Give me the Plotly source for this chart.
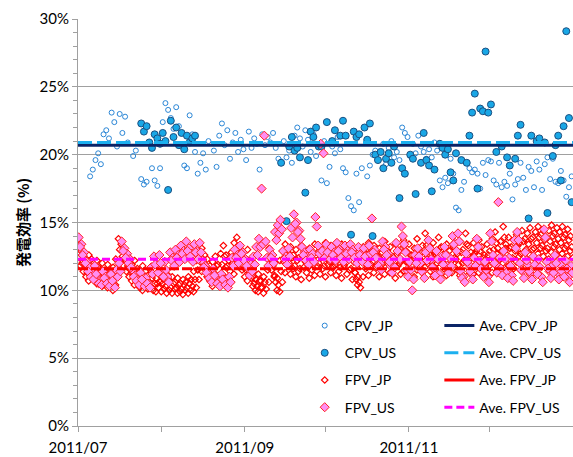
import pandas as pd
import plotly.graph_objects as go

# ---- data (efficiency in %, one list entry per day starting 2011-07-01) ----
start = pd.Timestamp("2011-07-01")

fpv_jp_morning = [
    13.2, 12.9, 12.4, 12.1, 12.6, 12.3, 11.8, 12.2, 11.6, 12.0,
    11.5, 11.9, 11.2, 11.7, 12.3, 13.8, 13.4, 13.0, 12.7, 12.4,
    11.9, 12.2, 11.6, 11.3, 11.8, 11.4, 11.1, 11.6, 11.2, 10.9,
    11.3, 11.0, 10.8, 11.2, 10.7, 11.0, 10.6, 10.9, 10.5, 10.8,
    10.6, 11.0, 10.8, 11.4, 12.2, 12.9, 13.1, 12.6, 12.3, 11.8,
    12.1, 12.5, 11.9, 12.7, 13.3, 12.6, 12.2, 12.8, 13.5, 13.9,
    13.2, 12.7, 12.4, 13.0, 11.6, 11.0, 10.8, 11.2, 10.7, 11.0,
    12.4, 13.1, 12.6, 11.1, 10.9, 12.2, 12.9, 13.4, 12.8, 13.2,
    12.6, 13.0, 12.4, 13.3, 12.9, 12.5, 13.1, 12.7, 13.4, 12.8,
    13.2, 12.6, 13.5, 12.9, 13.3, 12.7, 13.0, 12.5, 13.4, 12.8,
    13.1, 12.4, 12.9, 11.3, 11.0, 12.6, 13.2, 12.7, 13.5, 12.9,
    13.3, 12.6, 13.1, 12.8, 13.6, 12.9, 13.2, 12.5, 13.4, 12.8,
    13.0, 13.7, 12.9, 13.4, 12.6, 13.1, 13.8, 12.9, 13.3, 14.2,
    13.0, 12.6, 13.5, 12.8, 13.9, 13.2, 12.7, 13.4, 12.9, 14.0,
    13.1, 12.7, 13.6, 13.0, 14.2, 13.3, 12.8, 13.5, 12.9, 13.7,
    13.2, 12.6, 13.4, 12.9, 13.8, 14.3, 13.1, 13.6, 14.7, 13.4,
    13.9, 13.2, 13.7, 14.1, 13.5, 14.4, 13.8, 14.2, 14.6, 13.9,
    14.3, 14.7, 14.1, 14.5, 13.9, 14.4, 14.8, 14.2, 14.6, 14.3,
    14.7, 14.1, 14.5, 14.0,
]
fpv_jp_noon = [
    12.4, 12.0, 11.9, 11.3, 11.8, 11.5, 11.1, 11.7, 10.9, 11.3,
    10.8, 11.2, 10.7, 11.0, 11.6, 13.0, 12.5, 12.2, 11.8, 11.5,
    11.1, 11.4, 10.9, 10.6, 11.1, 10.8, 10.6, 10.9, 10.5, 10.5,
    10.6, 10.5, 10.3, 10.6, 10.2, 10.5, 10.2, 10.4, 10.1, 10.4,
    10.2, 10.5, 10.3, 10.8, 11.5, 12.1, 12.3, 11.8, 11.5, 11.0,
    11.3, 11.8, 11.1, 11.9, 12.5, 11.8, 11.4, 12.0, 12.6, 13.1,
    12.3, 11.8, 11.5, 12.2, 10.9, 10.5, 10.3, 10.7, 10.2, 10.6,
    11.5, 12.3, 11.8, 10.6, 10.4, 11.4, 12.1, 12.6, 12.0, 12.4,
    11.8, 12.2, 11.6, 12.5, 12.1, 11.7, 12.3, 11.9, 12.6, 12.0,
    12.4, 11.8, 12.7, 12.1, 12.5, 11.9, 12.2, 11.7, 12.6, 12.0,
    12.3, 11.6, 12.1, 10.8, 10.6, 11.8, 12.4, 11.9, 12.7, 12.1,
    12.5, 11.8, 12.3, 12.0, 12.8, 12.1, 12.4, 11.7, 12.6, 12.0,
    12.2, 12.9, 12.1, 12.6, 11.8, 12.3, 13.0, 12.1, 12.5, 13.3,
    12.2, 11.8, 12.7, 12.0, 13.1, 12.4, 11.9, 12.6, 12.1, 13.2,
    12.3, 11.9, 12.8, 12.2, 13.4, 12.5, 12.0, 12.7, 12.1, 12.9,
    12.4, 11.8, 12.6, 12.1, 13.0, 13.5, 12.3, 12.8, 13.9, 12.6,
    13.1, 12.4, 12.9, 13.3, 12.7, 13.6, 13.0, 13.4, 13.8, 13.1,
    13.5, 13.9, 13.3, 13.7, 13.1, 13.6, 14.0, 13.4, 13.8, 13.5,
    13.9, 13.3, 13.7, 13.2,
]
fpv_jp_afternoon = [
    11.8, 11.4, 11.0, 10.7, 11.2, 10.9, 10.5, 11.0, 10.3, 10.8,
    10.2, 10.6, 10.0, 10.4, 11.0, 12.2, 11.8, 11.4, 11.0, 10.7,
    10.4, 10.8, 10.2, 10.0, 10.5, 10.1, 10.3, 10.0, 9.9, 10.2,
    9.9, 10.1, 9.8, 10.0, 9.8, 10.1, 9.8, 9.9, 9.7, 10.0,
    9.8, 10.0, 9.9, 10.2, 10.8, 11.4, 11.6, 11.0, 10.7, 10.3,
    10.6, 11.0, 10.4, 11.1, 11.7, 11.0, 10.6, 11.2, 11.8, 12.3,
    11.5, 11.0, 10.7, 11.4, 10.3, 10.0, 9.9, 10.2, 9.8, 10.1,
    10.6, 11.5, 11.0, 10.0, 9.9, 10.6, 11.3, 11.8, 11.2, 11.6,
    11.0, 11.4, 10.8, 11.7, 11.3, 10.9, 11.5, 11.1, 11.8, 11.2,
    11.6, 11.0, 11.9, 11.3, 11.7, 11.1, 11.4, 10.9, 11.8, 11.2,
    11.5, 10.8, 11.3, 10.4, 10.2, 11.0, 11.6, 11.1, 11.9, 11.3,
    11.7, 11.0, 11.5, 11.2, 12.0, 11.3, 11.6, 10.9, 11.8, 11.2,
    11.4, 12.1, 11.3, 11.8, 11.0, 11.5, 12.2, 11.3, 11.7, 12.5,
    11.4, 11.0, 11.9, 11.2, 12.3, 11.6, 11.1, 11.8, 11.3, 12.4,
    11.5, 11.1, 12.0, 11.4, 12.6, 11.7, 11.2, 11.9, 11.3, 12.1,
    11.6, 11.0, 11.8, 11.3, 12.2, 12.7, 11.5, 12.0, 13.1, 11.8,
    12.3, 11.6, 12.1, 12.5, 11.9, 12.8, 12.2, 12.6, 13.0, 12.3,
    12.7, 13.1, 12.5, 12.9, 12.3, 12.8, 13.2, 12.6, 13.0, 12.7,
    13.1, 12.5, 12.9, 12.4,
]
fpv_us_am = [
    13.9, 13.4, 12.8, 12.1, 11.7, 11.3, 11.8, 11.0, 10.7, 11.4,
    11.0, 10.6, 11.2, 10.4, 11.5, 12.0, 13.6, 13.1, 12.7, 12.3,
    11.5, 11.1, 10.8, 11.3, 10.6, 10.9, 10.5, 11.7, 12.5, 11.9,
    12.6, 11.4, 12.1, 11.0, 12.8, 12.4, 13.0, 12.6, 13.3, 12.9,
    13.6, 13.1, 12.7, 13.4, 12.9, 13.5, 12.2, 11.8, 11.4, 11.0,
    11.6, 10.9, 10.6, 11.2, 10.8, 10.5, 11.0, 12.4, 13.0, 12.6,
    13.3, 12.8, 12.3, 11.6, 11.9, 12.5, 13.2, 13.8, 17.5, 21.4,
    12.4, 13.0, 12.6, 14.3, 14.8, 15.2, 12.9, 12.5, 13.1, 14.6,
    15.6, 15.0, 14.4, 13.2, 12.8, 12.5, 13.0, 12.7, 15.4, 13.3,
    20.8, 20.1, 13.4, 12.9, 13.2, 12.8, 13.5, 13.0, 12.7, 13.3,
    12.9, 13.4, 13.0, 12.6, 13.2, 12.7, 13.1, 12.5, 13.3, 15.3,
    13.0, 12.4, 12.0, 13.6, 13.2, 12.7, 11.8, 12.3, 13.5, 12.9,
    14.7, 13.4, 11.5, 12.1, 10.0, 12.6, 13.1, 12.0, 11.4, 12.8,
    13.7, 12.3, 11.6, 12.9, 11.2, 12.5, 13.2, 11.8, 12.4, 14.0,
    13.5, 14.2, 11.4, 11.0, 12.7, 11.9, 11.2, 12.4, 13.8, 12.2,
    11.5, 12.1, 11.0, 14.2, 12.6, 11.9, 16.5, 11.6, 12.9, 11.3,
    12.4, 11.1, 13.7, 14.3, 12.0, 11.4, 12.8, 11.9, 11.2, 12.5,
    11.7, 12.3, 11.0, 14.5, 12.1, 11.4, 11.8, 12.6, 11.3, 11.9,
    11.5, 12.2, 11.0, 11.8,
]
fpv_us_pm = [
    13.2, 12.6, 12.0, 11.4, 11.0, 10.8, 11.2, 10.5, 10.4, 10.9,
    10.5, 10.3, 10.7, 10.2, 11.0, 11.4, 12.9, 12.4, 12.0, 11.7,
    11.0, 10.7, 10.4, 10.8, 10.3, 10.5, 10.2, 11.2, 11.9, 11.3,
    12.0, 11.0, 11.5, 10.6, 12.2, 11.8, 12.4, 12.1, 12.7, 12.3,
    12.9, 12.5, 12.1, 12.8, 12.3, 12.8, 11.7, 11.3, 10.9, 10.6,
    11.1, 10.5, 10.3, 10.8, 10.4, 10.2, 10.6, 11.8, 12.4, 12.0,
    12.7, 12.2, 11.8, 11.1, 11.4, 11.9, 12.6, 13.2, 13.4, 13.6,
    11.8, 12.4, 12.0, 13.7, 14.2, 14.5, 12.3, 11.9, 12.5, 13.9,
    14.9, 14.3, 13.8, 12.6, 12.2, 11.9, 12.4, 12.1, 14.7, 12.7,
    12.9, 12.4, 12.8, 12.3, 12.6, 12.2, 12.9, 12.4, 12.1, 12.7,
    12.3, 12.8, 12.4, 12.0, 12.6, 12.1, 12.5, 11.9, 12.7, 12.8,
    12.4, 11.8, 11.5, 13.0, 12.6, 12.1, 11.3, 11.7, 12.9, 12.3,
    14.0, 12.8, 11.0, 11.5, 10.8, 12.0, 12.5, 11.4, 10.9, 12.2,
    13.1, 11.7, 11.1, 12.3, 10.8, 11.9, 12.6, 11.3, 11.8, 13.4,
    12.9, 13.6, 10.9, 10.6, 12.1, 11.4, 10.8, 11.8, 13.2, 11.6,
    11.0, 11.5, 10.6, 13.6, 12.0, 11.3, 12.4, 11.1, 12.3, 10.9,
    11.8, 10.7, 13.1, 13.7, 11.5, 10.9, 12.2, 11.4, 10.8, 11.9,
    11.2, 11.7, 10.6, 13.9, 11.6, 10.9, 11.3, 12.0, 10.8, 11.4,
    11.0, 11.6, 10.6, 11.3,
]
cpv_jp = [
    None, None, None, None, 18.4, 18.9, 19.6, 20.1, 19.3, 21.5,
    21.8, 21.2, 23.1, 22.4, 20.6, 23.0, 21.6, 22.8, 20.9, None,
    19.9, 20.3, None, 18.2, 17.8, 18.0, None, 19.0, 18.1, 17.7,
    19.0, 22.4, 23.8, 23.3, 22.7, 21.9, 23.5, 22.1, 21.6, 19.2,
    19.0, 22.9, 21.5, 20.2, 18.6, 19.4, 20.1, 18.9, 21.0, None,
    20.3, 19.1, 21.4, 22.3, 20.7, 21.8, 19.7, 20.9, 21.6, 20.2,
    21.1, 20.4, 19.6, 21.7, 20.5, 21.2, 20.8, 18.9, 21.5, 20.7,
    21.3, 20.9, 21.6, 20.5, 19.7, 19.5, 21.0, 19.8, 20.3, 19.4,
    21.4, 22.0, 21.2, 20.6, 21.8, 21.1, 20.2, 21.5, 19.9, 20.7,
    18.1, 21.0, 17.9, 19.1, 20.6, 20.1, 21.3, 20.4, 19.0, 18.7,
    16.8, 16.2, 15.9, 18.6, 16.5, 19.0, None, 18.4, 19.2, 20.0,
    20.3, 19.6, None, 20.8, 19.3, 20.5, 21.0, 19.8, 20.2, 19.6,
    22.0, 21.6, 21.3, 19.9, 20.8, 20.1, 21.4, 20.6, 20.2, 19.7,
    20.4, 19.8, 20.9, 20.3, 18.1, 17.6, 18.3, 17.9, 19.7, 18.6,
    16.1, 15.9, 17.4, 18.0, None, 19.0, 18.7, 18.9, 18.6, 17.5,
    19.4, 18.5, 19.6, 19.5, 18.1, 17.8, 19.4, 17.6, 18.0, 17.7,
    18.6, 16.7, 17.8, 18.2, 19.4, 18.3, 17.4, 19.1, 18.8, 17.6,
    19.5, 18.9, 17.4, 19.3, 19.8, 18.2, 19.7, 18.0, 17.9, 18.8,
    18.1, 16.9, 17.6, 18.4,
]
# CPV_US: days since 2011-07-01 and efficiency
cpv_us_day = [
    23, 24, 25, 26, 27, 28, 29, 30, 31, 32, 33, 34, 35, 36, 37, 38, 39, 40, 41, 42, 43,
    75, 77, 78, 79, 80, 81, 82, 84, 85, 86, 87, 88, 89, 90, 92, 94, 95, 97, 98, 99,
    101, 102, 103, 104, 106, 107, 108, 109, 110, 111, 112, 113, 114, 115, 116, 117,
    119, 120, 121, 123, 124, 125, 127, 128, 129, 130, 131, 132, 134, 135, 136, 137,
    138, 139, 140, 142, 144, 145, 146, 147, 148, 149, 150, 151, 152, 153, 155, 157,
    159, 160, 162, 163, 164, 167, 168, 170, 171, 173, 174, 176, 177, 178, 179, 180,
    181, 182, 183,
]
cpv_us_val = [
    22.3, 21.7, 22.1, 20.9, 20.5, 21.5, 21.2, 20.8, 21.6, 21.0, 17.4, 22.5, 21.3, 22.0, 20.7, 21.6, 20.4, 21.4, 20.9, 21.2, 21.4,
    19.4, 15.1, 20.6, 21.3, 20.3, 20.5, 19.8, 17.2, 19.6, 21.7, 21.3, 22.0, 20.6, 20.6, 22.4, 21.0, 21.8, 21.4, 22.5, 21.4,
    14.1, 21.7, 21.3, 21.5, 22.0, 21.1, 22.3, 14.0, 20.0, 19.6, 20.2, 19.0, 19.7, 20.1, 19.4, 20.6,
    16.8, 19.0, 18.6, 20.0, 19.7, 17.1, 19.4, 21.6, 19.6, 19.2, 17.3, 18.9, 20.8, 20.5, 20.0, 20.4,
    18.7, 18.1, 20.1, 19.6, 19.4, 21.4, 23.1, 24.5, 17.5, 23.4, 23.2, 27.6, 23.1, 23.7, 20.2, 20.6,
    19.8, 19.2, 19.7, 21.4, 22.2, 15.3, 21.4, 21.0, 21.2, 20.9, 15.7, 19.9, 20.7, 21.4, 18.1, 22.1,
    29.1, 22.7, 16.5,
]

# period averages
ave_cpv_jp = 20.7
ave_cpv_us = 20.9
ave_fpv_jp = 11.6
ave_fpv_us = 12.3

y_ticks = [0, 5, 10, 15, 20, 25, 30]
y_text = ["0%", "5%", "10%", "15%", "20%", "25%", "30%"]
month_ticks = ["2011-07-01", "2011-08-01", "2011-09-01", "2011-10-01", "2011-11-01", "2011-12-01"]
month_text = ["2011/07", "", "2011/09", "", "2011/11", ""]
x_end = "2012-01-01"


def day_series(values, hour):
    xs, ys = [], []
    for d, v in enumerate(values):
        if v is None:
            continue
        xs.append(start + pd.Timedelta(days=d, hours=hour))
        ys.append(v)
    return xs, ys


FONT = "Lato, 'Open Sans', sans-serif"
fig = go.Figure()

# --- scatter series ---
x, y = day_series(cpv_jp, 12)
fig.add_trace(go.Scatter(
    x=x, y=y, mode="markers", name="CPV_JP", legend="legend", legendgroup="a1",
    marker=dict(symbol="circle-open", size=5, color="#2a86d6", line=dict(width=1)),
))
fig.add_trace(go.Scatter(
    x=[start + pd.Timedelta(days=d, hours=12) for d in cpv_us_day], y=cpv_us_val,
    mode="markers", name="CPV_US", legend="legend", legendgroup="a2",
    marker=dict(symbol="circle", size=7, color="#19a7e6", line=dict(width=1, color="#1b4f80")),
))
xa, ya = day_series(fpv_jp_morning, 1)
xb, yb = day_series(fpv_jp_noon, 12)
xc, yc = day_series(fpv_jp_afternoon, 23)
fig.add_trace(go.Scatter(
    x=xa + xb + xc, y=ya + yb + yc, mode="markers", name="FPV_JP", legend="legend", legendgroup="a3",
    marker=dict(symbol="diamond-open", size=5, color="#ff0000", line=dict(width=1.2)),
))
xa, ya = day_series(fpv_us_am, 6)
xb, yb = day_series(fpv_us_pm, 18)
fig.add_trace(go.Scatter(
    x=xa + xb, y=ya + yb, mode="markers", name="FPV_US", legend="legend", legendgroup="a4",
    marker=dict(symbol="diamond", size=7, color="#ff8ef2", line=dict(width=1, color="#ff2020")),
))

# --- average lines ---
span = [start, pd.Timestamp(x_end)]
fig.add_trace(go.Scatter(
    x=span, y=[ave_cpv_jp] * 2, mode="lines", name="Ave. CPV_JP", legend="legend2", legendgroup="b1",
    line=dict(color="#0b2466", width=3),
))
fig.add_trace(go.Scatter(
    x=span, y=[ave_cpv_us] * 2, mode="lines", name="Ave. CPV_US", legend="legend2", legendgroup="b2",
    line=dict(color="#1cb0ef", width=3, dash="14px,5px"),
))
fig.add_trace(go.Scatter(
    x=span, y=[ave_fpv_jp] * 2, mode="lines", showlegend=False,
    line=dict(color="#ff0000", width=3, dash="10px,3px"),
))
fig.add_trace(go.Scatter(
    x=[None], y=[None], mode="lines", name="Ave. FPV_JP", legend="legend2", legendgroup="b3",
    line=dict(color="#ff0000", width=3),
))
fig.add_trace(go.Scatter(
    x=span, y=[ave_fpv_us] * 2, mode="lines", name="Ave. FPV_US", legend="legend2", legendgroup="b4",
    line=dict(color="#ff00ff", width=3, dash="8px,4px"),
))

legend_common = dict(
    bgcolor="white", borderwidth=0, font=dict(family=FONT, size=14, color="#000"),
    tracegroupgap=6, traceorder="grouped", yanchor="top", xanchor="left",
)
fig.update_layout(
    width=573, height=457,
    margin=dict(l=78, r=0, t=19, b=31),
    paper_bgcolor="white", plot_bgcolor="white",
    font=dict(family=FONT, size=15, color="#000"),
    legend=dict(x=0.458, y=0.285, **legend_common),
    legend2=dict(x=0.73, y=0.285, **legend_common),
    # white backing behind the two legend columns (hides the gridline there)
    shapes=[dict(
        type="rect", xref="paper", yref="paper", x0=0.4485, x1=1.0, y0=0.02, y1=0.285,
        fillcolor="white", line=dict(width=0), layer="above",
    )],
    xaxis=dict(
        type="date", range=[start, pd.Timestamp(x_end)],
        tickvals=month_ticks, ticktext=month_text,
        ticks="outside", ticklen=5, tickcolor="#a0a0a0",
        showgrid=False, showline=True, linecolor="#a0a0a0", linewidth=1,
        tickfont=dict(size=15), zeroline=False, ticklabelstandoff=3,
    ),
    yaxis=dict(
        range=[0, 30], tickvals=y_ticks, ticktext=y_text,
        ticks="outside", ticklen=5, tickcolor="#a0a0a0",
        showgrid=True, gridcolor="#a0a0a0", gridwidth=1,
        showline=True, linecolor="#a0a0a0", linewidth=1, zeroline=False,
        minor=dict(dtick=1, ticks="outside", ticklen=4, tickcolor="#a0a0a0", showgrid=False),
        tickfont=dict(size=15),
        title=dict(text="<b>発電効率 (%)</b>", standoff=6,
                   font=dict(family="'Noto Sans CJK JP', sans-serif", size=15)),
    ),
)

fig.write_html("out.html")
